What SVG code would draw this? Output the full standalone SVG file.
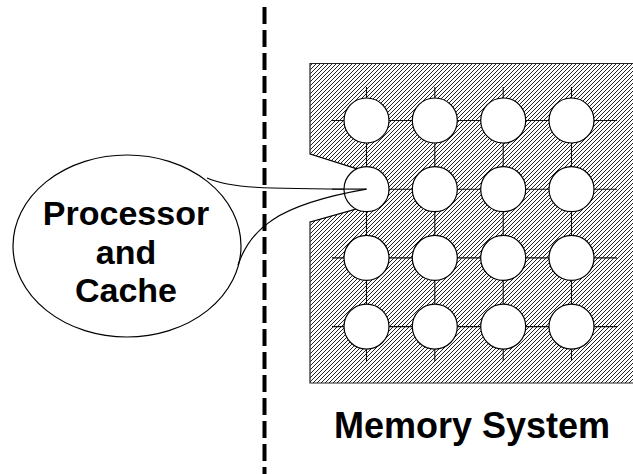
<svg xmlns="http://www.w3.org/2000/svg" width="633" height="474" viewBox="0 0 633 474">
<style>
.ln{stroke:#000;stroke-width:1.2;fill:none}
.grid{stroke:#111;stroke-width:1.1;fill:none}
.node{fill:#fff;stroke:#000;stroke-width:1.2}
.lbl{font-family:"Liberation Sans",Arial,sans-serif;font-weight:bold;fill:#000;text-anchor:middle}
</style>
<defs>
<pattern id="hatch" patternUnits="userSpaceOnUse" width="4" height="4">
<path d="M-1,1 L1,-1 M0,4 L4,0 M3,5 L5,3" stroke="#222" stroke-width="1"/>
</pattern>
</defs>
<rect width="633" height="474" fill="#fff"/>
<g id="divider">
<line x1="264.5" y1="7" x2="264.5" y2="474" stroke="#000" stroke-width="4" stroke-dasharray="17 6"/>
</g>
<g id="memory-system">
<path d="M310,63.5 H640 V383 H310 V222 L366.5,206 L366.5,172 L310,154 Z" fill="url(#hatch)" stroke="#222" stroke-width="1.2"/>
<path d="M310,154 L366.5,172 L366.5,206 L310,222" fill="#fff" stroke="#000" stroke-width="1.2"/>
</g>
<g id="connectors" class="grid">
<line x1="332" y1="120.5" x2="617" y2="120.5"/>
<line x1="332" y1="189.2" x2="617" y2="189.2"/>
<line x1="332" y1="257.9" x2="617" y2="257.9"/>
<line x1="332" y1="326.6" x2="617" y2="326.6"/>
<line x1="366.5" y1="87" x2="366.5" y2="361"/>
<line x1="434.8" y1="87" x2="434.8" y2="361"/>
<line x1="503.2" y1="87" x2="503.2" y2="361"/>
<line x1="571.5" y1="87" x2="571.5" y2="361"/>
</g>
<g id="n11"><circle class="node" cx="366.5" cy="120.5" r="22.5"/></g>
<g id="n12"><circle class="node" cx="434.8" cy="120.5" r="22.5"/></g>
<g id="n13"><circle class="node" cx="503.2" cy="120.5" r="22.5"/></g>
<g id="n14"><circle class="node" cx="571.5" cy="120.5" r="22.5"/></g>
<g id="n21"><circle class="node" cx="366.5" cy="189.2" r="22.5"/></g>
<g id="n22"><circle class="node" cx="434.8" cy="189.2" r="22.5"/></g>
<g id="n23"><circle class="node" cx="503.2" cy="189.2" r="22.5"/></g>
<g id="n24"><circle class="node" cx="571.5" cy="189.2" r="22.5"/></g>
<g id="n31"><circle class="node" cx="366.5" cy="257.9" r="22.5"/></g>
<g id="n32"><circle class="node" cx="434.8" cy="257.9" r="22.5"/></g>
<g id="n33"><circle class="node" cx="503.2" cy="257.9" r="22.5"/></g>
<g id="n34"><circle class="node" cx="571.5" cy="257.9" r="22.5"/></g>
<g id="n41"><circle class="node" cx="366.5" cy="326.6" r="22.5"/></g>
<g id="n42"><circle class="node" cx="434.8" cy="326.6" r="22.5"/></g>
<g id="n43"><circle class="node" cx="503.2" cy="326.6" r="22.5"/></g>
<g id="n44"><circle class="node" cx="571.5" cy="326.6" r="22.5"/></g>
<g id="processor">
<ellipse cx="127" cy="246" rx="114" ry="91" fill="none" stroke="#000" stroke-width="1.2"/>
<path class="ln" d="M207,178 C230,188 260,189 366.5,189.2"/>
<path class="ln" d="M238,265 C250,230 275,205 366.5,189.2"/>
<text class="lbl" x="126" y="225" font-size="34">Processor</text>
<text class="lbl" x="126" y="264" font-size="34">and</text>
<text class="lbl" x="126" y="302" font-size="34">Cache</text>
</g>
<g id="caption">
<text class="lbl" x="472" y="438" font-size="36">Memory System</text>
</g>
</svg>
